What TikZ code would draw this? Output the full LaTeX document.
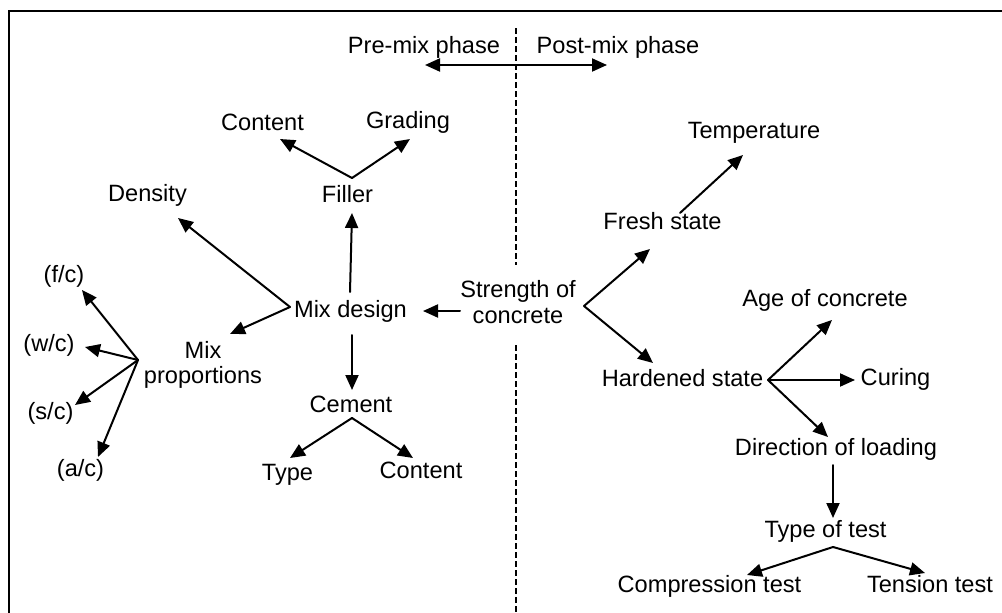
\documentclass[tikz,border=0pt]{standalone}
\usepackage{fontspec}
\setmainfont{Liberation Sans}
\usetikzlibrary{arrows.meta}
\begin{document}
\begin{tikzpicture}[x=1pt,y=-1pt,
  lbl/.style={font=\fontsize{23.6}{26}\selectfont, inner sep=0pt, anchor=base, align=center},
  arr/.style={line width=2pt, line cap=round, -{Triangle[length=15pt,width=13pt]}},
  twoway/.style={line width=2pt, {Triangle[length=15pt,width=13pt]}-{Triangle[length=15pt,width=13pt]}},
  divider/.style={line width=1.2pt, dash pattern=on 6pt off 3pt},
  frame/.style={line width=2.5pt}]
\useasboundingbox (0,0) rectangle (1002,613);

% frame (top and left edges)
\draw[frame] (9,614) -- (9,11) -- (1003,11);

% phase divider
\coordinate (divtop) at (516,28);
\coordinate (divmidA) at (516,265);
\coordinate (divmidB) at (516,345);
\coordinate (divbot) at (516,613);
\draw[divider] (divtop) -- (divmidA);
\draw[divider] (divmidB) -- (divbot);

% labels (multi-line labels sit on the baseline of their last line)
\node[lbl] (pre)      at (424,53)  {Pre-mix phase};
\node[lbl] (post)     at (618,53)  {Post-mix phase};
\node[lbl] (fcontent) at (262.5,130) {Content};
\node[lbl] (grading)  at (408,128) {Grading};
\node[lbl] (filler)   at (347.5,202) {Filler};
\node[lbl] (density)  at (147.5,201) {Density};
\node[lbl] (mixdesign) at (350.5,317) {Mix design};
\node[lbl] (strength) at (518,323) {Strength of\\concrete};
\node[lbl, font=\fontsize{23.6}{25.5}\selectfont] (mixprop) at (203,383.5) {Mix\\proportions};
\node[lbl] (fc) at (64,282) {(f/c)};
\node[lbl] (wc) at (49,351) {(w/c)};
\node[lbl] (sc) at (50.5,419) {(s/c)};
\node[lbl] (ac) at (80.5,476) {(a/c)};
\node[lbl] (cement)   at (351,412) {Cement};
\node[lbl] (ctype)    at (287.5,480) {Type};
\node[lbl] (ccontent) at (421,478) {Content};
\node[lbl] (fresh)    at (662.5,229) {Fresh state};
\node[lbl] (temp)     at (754,138) {Temperature};
\node[lbl] (hardened) at (682.5,386) {Hardened state};
\node[lbl] (age)      at (825,306) {Age of concrete};
\node[lbl] (curing)   at (895.5,385) {Curing};
\node[lbl] (direction) at (836,455) {Direction of loading};
\node[lbl] (testtype) at (825.5,537) {Type of test};
\node[lbl] (compr)    at (709.5,592) {Compression test};
\node[lbl] (tension)  at (930,592) {Tension test};

% branch points and arrow ends
\coordinate (phL) at (425,65);
\coordinate (phR) at (607,65);
\coordinate (fillerfork) at (352,178);
\coordinate (fcontentend) at (280,139);
\coordinate (gradingend) at (410,139);
\coordinate (mdup) at (350,292);
\coordinate (fillerend) at (352,213);
\coordinate (mdfork) at (290,307);
\coordinate (densityend) at (178,218);
\coordinate (mixpropend) at (230,334);
\coordinate (strengthleft) at (460,311);
\coordinate (mdend) at (423,311);
\coordinate (mddown) at (352,335);
\coordinate (cementend) at (352,390);
\coordinate (cementfork) at (352,418);
\coordinate (ctypeend) at (290,458);
\coordinate (ccontentend) at (413,458);
\coordinate (mpfork) at (138,360);
\coordinate (fcend) at (82,290);
\coordinate (wcend) at (85,347);
\coordinate (scend) at (75,405);
\coordinate (acend) at (98,457);
\coordinate (strengthfork) at (584,306);
\coordinate (freshend) at (650,249);
\coordinate (hardenedend) at (653,363);
\coordinate (freshup) at (680,213);
\coordinate (tempend) at (743,155);
\coordinate (hardfork) at (768,380);
\coordinate (ageend) at (832,320);
\coordinate (curingend) at (855,380);
\coordinate (directionend) at (828,437);
\coordinate (dirdown) at (833,465);
\coordinate (testtypeend) at (833,518);
\coordinate (testfork) at (833,547);
\coordinate (comprend) at (747,575);
\coordinate (tensionend) at (925,573);

% connectors
\draw[twoway] (phL) -- (phR);
\draw[arr] (fillerfork) -- (fcontentend);
\draw[arr] (fillerfork) -- (gradingend);
\draw[arr] (mdup) -- (fillerend);
\draw[arr] (mdfork) -- (densityend);
\draw[arr] (mdfork) -- (mixpropend);
\draw[arr] (strengthleft) -- (mdend);
\draw[arr] (mddown) -- (cementend);
\draw[arr] (cementfork) -- (ctypeend);
\draw[arr] (cementfork) -- (ccontentend);
\draw[arr] (mpfork) -- (fcend);
\draw[arr] (mpfork) -- (wcend);
\draw[arr] (mpfork) -- (scend);
\draw[arr] (mpfork) -- (acend);
\draw[arr] (strengthfork) -- (freshend);
\draw[arr] (strengthfork) -- (hardenedend);
\draw[arr] (freshup) -- (tempend);
\draw[arr] (hardfork) -- (ageend);
\draw[arr] (hardfork) -- (curingend);
\draw[arr] (hardfork) -- (directionend);
\draw[arr] (dirdown) -- (testtypeend);
\draw[arr] (testfork) -- (comprend);
\draw[arr] (testfork) -- (tensionend);
\end{tikzpicture}
\end{document}
